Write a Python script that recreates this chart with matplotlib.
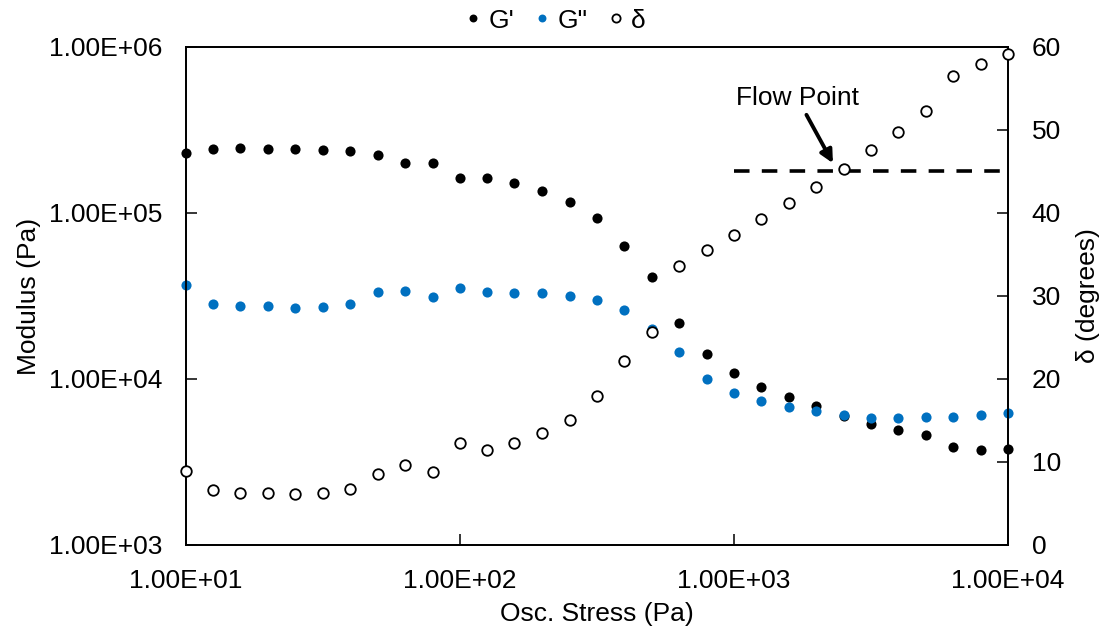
import matplotlib
matplotlib.use("Agg")
import matplotlib.pyplot as plt
from matplotlib.ticker import FuncFormatter, NullLocator, FixedLocator

plt.rcParams['font.family'] = ['Liberation Sans', 'DejaVu Sans']

# data
stress = [10, 12.6, 15.8, 20.0, 25.1, 31.6, 39.8, 50.1, 63.1, 79.4,
          100, 126, 158, 200, 251, 316, 398, 501, 631, 794,
          1000, 1259, 1585, 1995, 2512, 3162, 3981, 5012, 6310, 7943, 10000]
g_storage = [2.29e5, 2.42e5, 2.46e5, 2.44e5, 2.44e5, 2.41e5, 2.36e5, 2.22e5, 1.99e5, 2.01e5,
             1.62e5, 1.62e5, 1.51e5, 1.35e5, 1.17e5, 9.27e4, 6.35e4, 4.14e4, 2.18e4, 1.41e4,
             1.08e4, 8.93e3, 7.82e3, 6.87e3, 5.98e3, 5.38e3, 4.91e3, 4.58e3, 3.89e3, 3.73e3, 3.77e3]
g_loss = [3.67e4, 2.84e4, 2.77e4, 2.77e4, 2.69e4, 2.72e4, 2.81e4, 3.32e4, 3.41e4, 3.13e4,
          3.54e4, 3.32e4, 3.30e4, 3.30e4, 3.18e4, 3.01e4, 2.60e4, 1.99e4, 1.45e4, 1.00e4,
          8.19e3, 7.36e3, 6.81e3, 6.38e3, 6.07e3, 5.85e3, 5.79e3, 5.93e3, 5.87e3, 6.04e3, 6.27e3]
delta = [8.95, 6.59, 6.23, 6.23, 6.11, 6.27, 6.71, 8.55, 9.60, 8.76,
         12.25, 11.48, 12.25, 13.53, 15.06, 17.95, 22.2, 25.7, 33.65, 35.6,
         37.35, 39.3, 41.2, 43.1, 45.3, 47.55, 49.76, 52.3, 56.5, 58.0, 59.15]

flow_x = [1000, 10000]
flow_delta = [45, 45]

fs = 19
sci = FuncFormatter(lambda v, p: f"{v:.2E}")

fig = plt.figure(figsize=(11.07, 6.34), dpi=100)
ax = fig.add_axes([0.168, 0.1404, 0.7426, 0.7855])
ax2 = ax.twinx()

ax.plot(stress, g_storage, 'o', color='black', ms=7.3, mec='none', label="G'", clip_on=False, zorder=3)
ax.plot(stress, g_loss, 'o', color='#0070C0', ms=7.3, mec='none', label='G"', clip_on=False, zorder=3)
ax2.plot(flow_x, flow_delta, color='black', lw=2.6, dashes=(4.3, 3.4), zorder=1)
ax2.plot(stress, delta, 'o', mfc='white', mec='black', mew=1.3, ms=7.6, label='δ', clip_on=False, zorder=3)

ax.set_xscale('log')
ax.set_yscale('log')
ax.set_xlim(10, 10000)
ax.set_ylim(1e3, 1e6)
ax2.set_ylim(0, 60)

ax.xaxis.set_major_locator(FixedLocator([10, 100, 1000, 10000]))
ax.yaxis.set_major_locator(FixedLocator([1e3, 1e4, 1e5, 1e6]))
ax.xaxis.set_minor_locator(NullLocator())
ax.yaxis.set_minor_locator(NullLocator())
ax.xaxis.set_major_formatter(sci)
ax.yaxis.set_major_formatter(sci)
ax2.set_yticks(range(0, 61, 10))

for a in (ax, ax2):
    a.tick_params(direction='in', length=8, width=1.1, labelsize=fs, pad=17, color='black')
    for s in a.spines.values():
        s.set_linewidth(1.3)
        s.set_color('black')
ax.tick_params(top=False, right=False)

ax.set_xlabel('Osc. Stress (Pa)', fontsize=fs, labelpad=7)
ax.set_ylabel('Modulus (Pa)', fontsize=fs, labelpad=6)
ax2.set_ylabel('δ (degrees)', fontsize=fs, labelpad=11)

ax2.annotate('Flow Point', xy=(2296, 46.0), xytext=(1698, 53.9), fontsize=fs,
             ha='center', va='center',
             arrowprops=dict(arrowstyle='-|>', color='black', lw=2.8, mutation_scale=19,
                             shrinkA=2, shrinkB=0))

h1, l1 = ax.get_legend_handles_labels()
h2, l2 = ax2.get_legend_handles_labels()
fig.legend(h1 + h2[-1:], l1 + l2[-1:], loc='upper center', bbox_to_anchor=(0.502, 1.024),
           ncol=3, frameon=False, fontsize=fs, markerscale=0.78, handlelength=0.55,
           handletextpad=0.3, columnspacing=0.8)

fig.savefig('out.png', dpi=100)
